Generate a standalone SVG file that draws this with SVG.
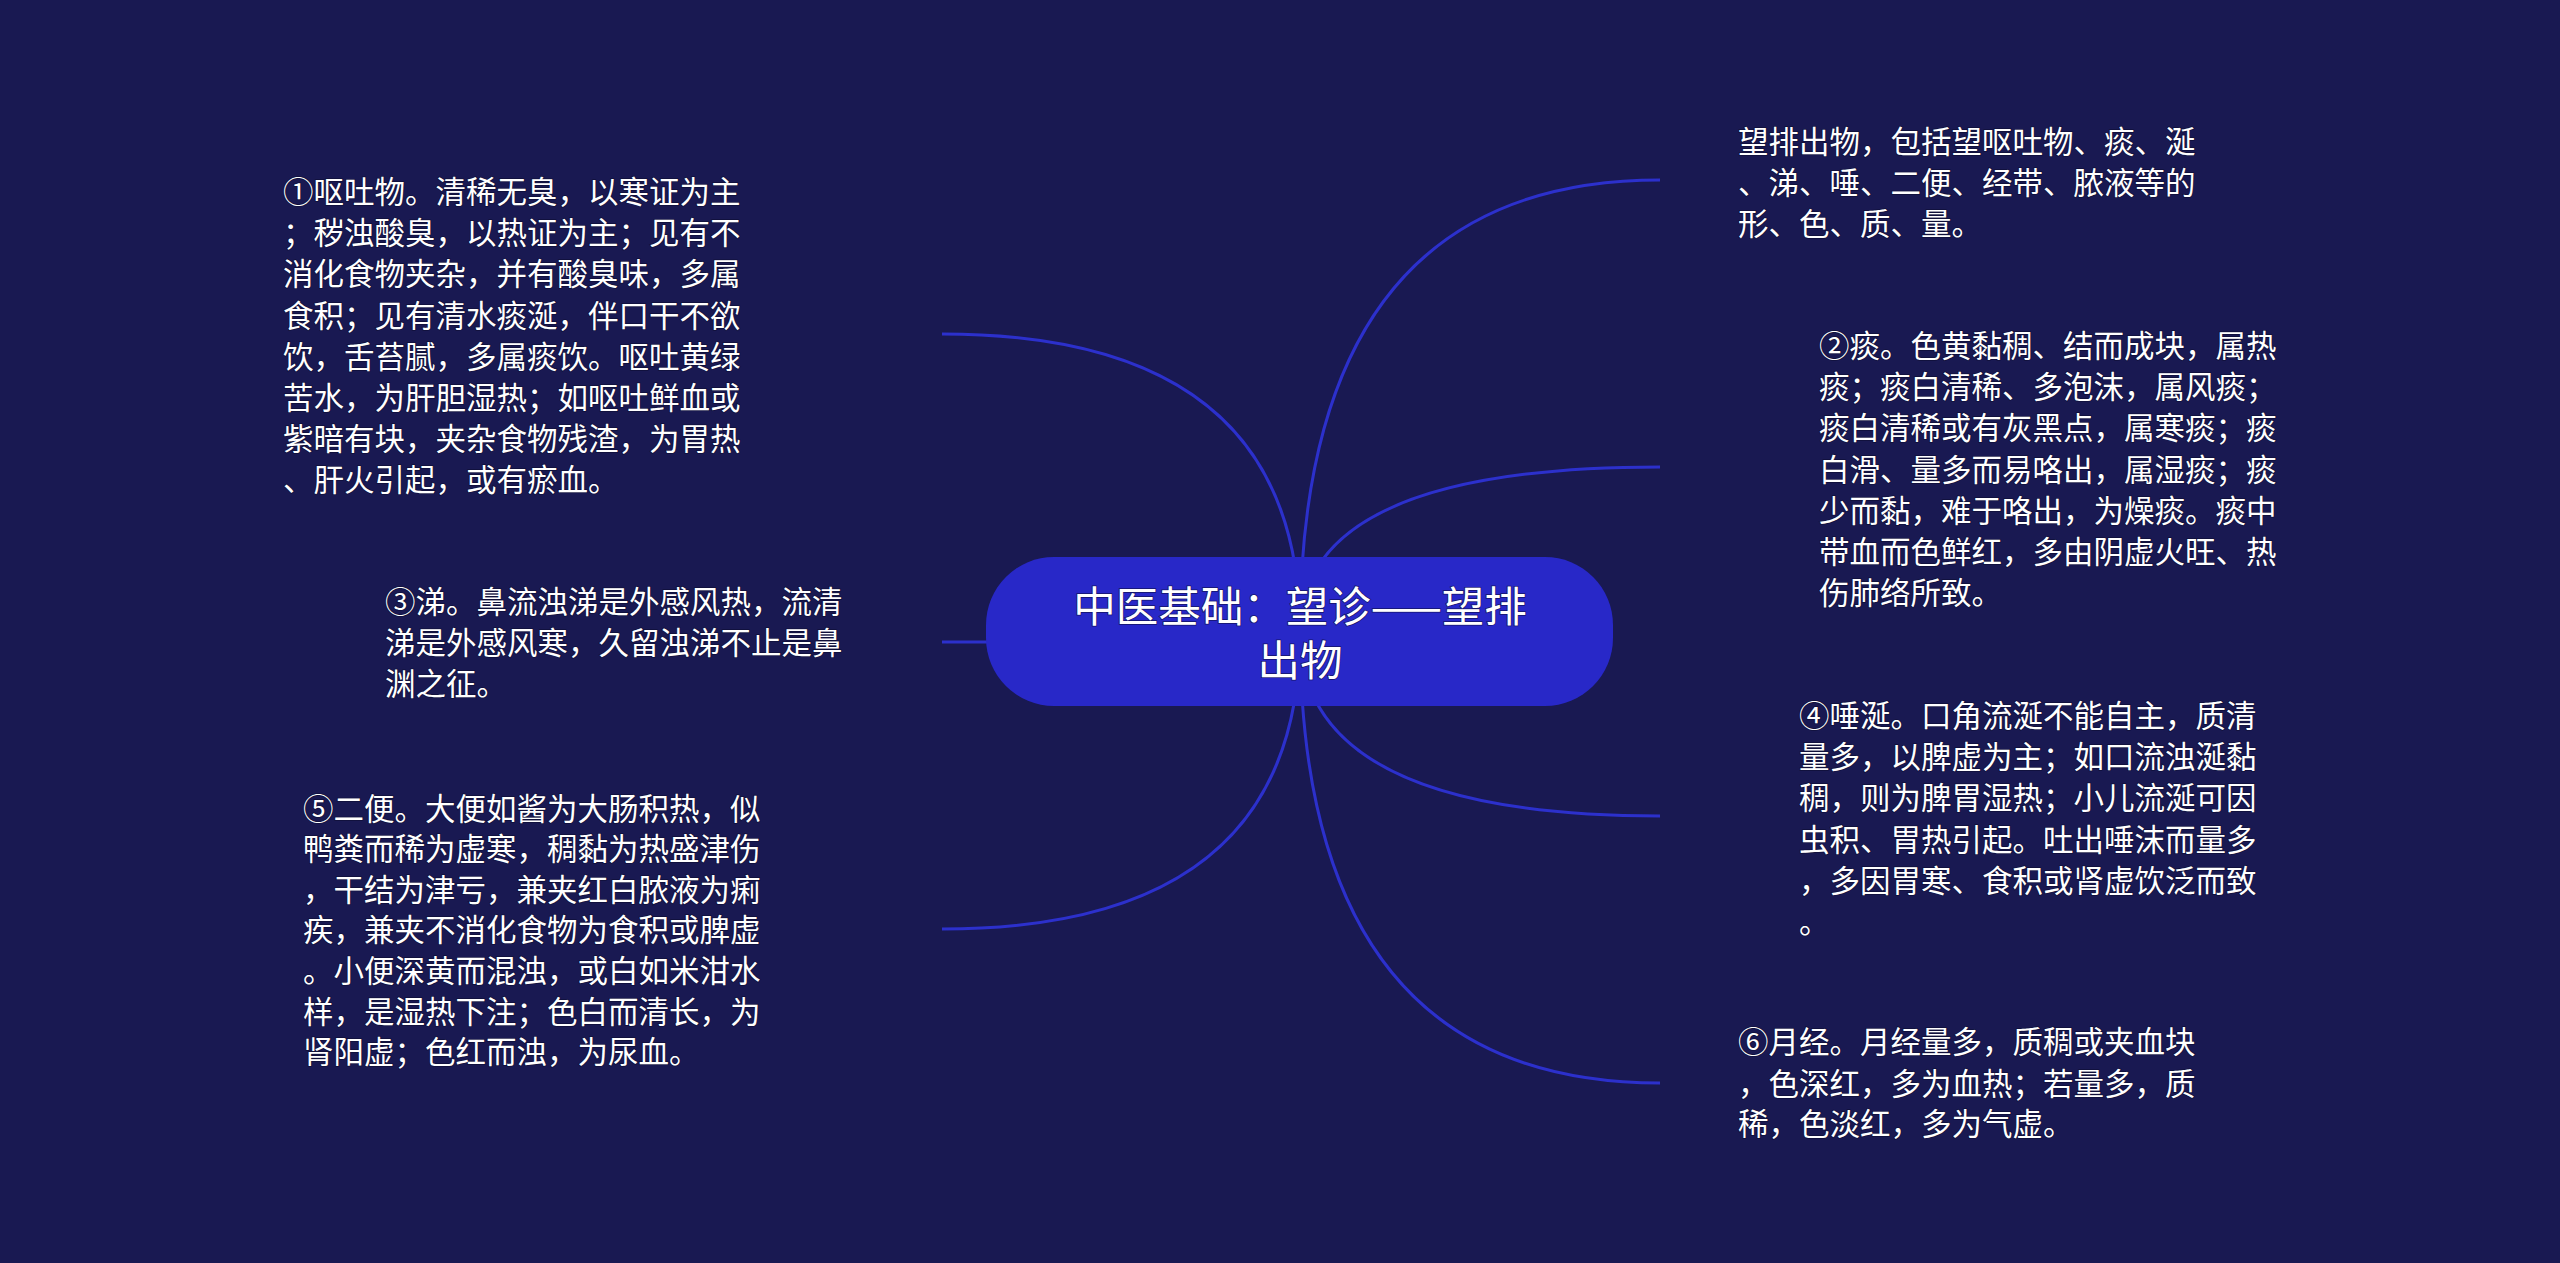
<svg xmlns="http://www.w3.org/2000/svg" width="2560" height="1263" viewBox="0 0 2560 1263">
<style>
.t{font-family:"Noto Sans CJK SC","Noto Sans",sans-serif;font-size:30.5px;fill:#ffffff;stroke:#10103a;stroke-width:1.5px;paint-order:stroke;}
.title{font-family:"Noto Sans CJK SC","Noto Sans",sans-serif;font-size:42.5px;fill:#ffffff;text-anchor:middle;stroke:#14146a;stroke-width:1.5px;paint-order:stroke;}
.c{fill:none;stroke:#2c30cc;stroke-width:3;stroke-linecap:butt;}
</style>
<rect x="0" y="0" width="2560" height="1263" fill="#191952"/>
<g id="connectors">
<path class="c" d="M1300 632 Q1300 180 1660 180"/>
<path class="c" d="M1300 632 Q1300 467 1660 467"/>
<path class="c" d="M1300 632 Q1300 816 1660 816"/>
<path class="c" d="M1300 632 Q1300 1083 1660 1083"/>
<path class="c" d="M1300 632 Q1300 334 942 334"/>
<path class="c" d="M1300 642 L942 642"/>
<path class="c" d="M1300 632 Q1300 929 942 929"/>
</g>
<g id="root">
<rect x="986" y="557" width="627" height="149" rx="68" ry="68" fill="#2828c8"/>
<text class="title"><tspan x="1300" y="622">中医基础：望诊——望排</tspan><tspan x="1300" y="676">出物</tspan></text>
</g>
<g id="node-intro">
<text class="t" x="1738" y="153">望排出物，包括望呕吐物、痰、涎</text>
<text class="t" x="1738" y="194">、涕、唾、二便、经带、脓液等的</text>
<text class="t" x="1738" y="235">形、色、质、量。</text>
</g>
<g id="node-1">
<text class="t" x="283" y="203">①呕吐物。清稀无臭，以寒证为主</text>
<text class="t" x="283" y="244">；秽浊酸臭，以热证为主；见有不</text>
<text class="t" x="283" y="285">消化食物夹杂，并有酸臭味，多属</text>
<text class="t" x="283" y="327">食积；见有清水痰涎，伴口干不欲</text>
<text class="t" x="283" y="368">饮，舌苔腻，多属痰饮。呕吐黄绿</text>
<text class="t" x="283" y="409">苦水，为肝胆湿热；如呕吐鲜血或</text>
<text class="t" x="283" y="450">紫暗有块，夹杂食物残渣，为胃热</text>
<text class="t" x="283" y="491">、肝火引起，或有瘀血。</text>
</g>
<g id="node-2">
<text class="t" x="1819" y="357">②痰。色黄黏稠、结而成块，属热</text>
<text class="t" x="1819" y="398">痰；痰白清稀、多泡沫，属风痰；</text>
<text class="t" x="1819" y="439">痰白清稀或有灰黑点，属寒痰；痰</text>
<text class="t" x="1819" y="481">白滑、量多而易咯出，属湿痰；痰</text>
<text class="t" x="1819" y="522">少而黏，难于咯出，为燥痰。痰中</text>
<text class="t" x="1819" y="563">带血而色鲜红，多由阴虚火旺、热</text>
<text class="t" x="1819" y="604">伤肺络所致。</text>
</g>
<g id="node-3">
<text class="t" x="385" y="613">③涕。鼻流浊涕是外感风热，流清</text>
<text class="t" x="385" y="654">涕是外感风寒，久留浊涕不止是鼻</text>
<text class="t" x="385" y="695">渊之征。</text>
</g>
<g id="node-4">
<text class="t" x="1799" y="727">④唾涎。口角流涎不能自主，质清</text>
<text class="t" x="1799" y="768">量多，以脾虚为主；如口流浊涎黏</text>
<text class="t" x="1799" y="809">稠，则为脾胃湿热；小儿流涎可因</text>
<text class="t" x="1799" y="851">虫积、胃热引起。吐出唾沫而量多</text>
<text class="t" x="1799" y="892">，多因胃寒、食积或肾虚饮泛而致</text>
<text class="t" x="1799" y="933">。</text>
</g>
<g id="node-5">
<text class="t" x="303" y="820">⑤二便。大便如酱为大肠积热，似</text>
<text class="t" x="303" y="860">鸭粪而稀为虚寒，稠黏为热盛津伤</text>
<text class="t" x="303" y="901">，干结为津亏，兼夹红白脓液为痢</text>
<text class="t" x="303" y="941">疾，兼夹不消化食物为食积或脾虚</text>
<text class="t" x="303" y="982">。小便深黄而混浊，或白如米泔水</text>
<text class="t" x="303" y="1023">样，是湿热下注；色白而清长，为</text>
<text class="t" x="303" y="1063">肾阳虚；色红而浊，为尿血。</text>
</g>
<g id="node-6">
<text class="t" x="1738" y="1053">⑥月经。月经量多，质稠或夹血块</text>
<text class="t" x="1738" y="1095">，色深红，多为血热；若量多，质</text>
<text class="t" x="1738" y="1135">稀，色淡红，多为气虚。</text>
</g>
</svg>
